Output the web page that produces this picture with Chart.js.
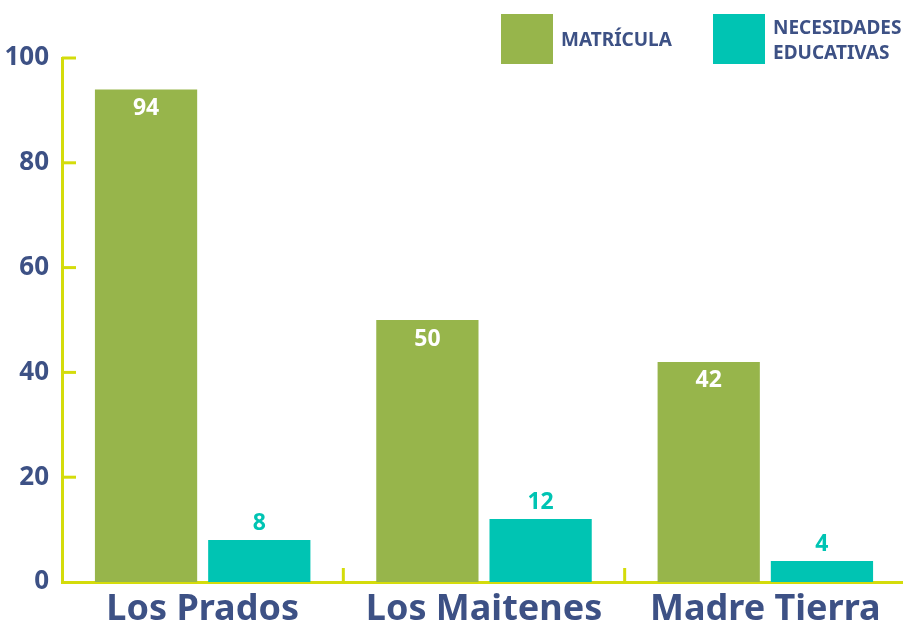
<!DOCTYPE html>
<html>
<head>
<meta charset="utf-8">
<script src="https://cdn.jsdelivr.net/npm/chart.js@4"></script>
<style>
  html, body { margin: 0; padding: 0; background: #fff; overflow: hidden; }
  #wrap { width: 906px; height: 621px; position: relative; }
</style>
</head>
<body>
<div id="wrap"><canvas id="chart"></canvas></div>
<script>
// Datos
const categorias = ['Los Prados', 'Los Maitenes', 'Madre Tierra'];
const matricula = [94, 50, 42];
const necesidades = [8, 12, 4];
const etiquetasSeries = [['MATRÍCULA'], ['NECESIDADES', 'EDUCATIVAS']];
const ticksY = [0, 20, 40, 60, 80, 100];

const VERDE = '#97b54b';
const TURQUESA = '#00c4b3';
const AZUL = '#3d5185';
const EJE = '#d4dc0b';
const FUENTE = '"Noto Sans", "Open Sans", sans-serif';

// Marcas del eje y divisiones entre categorías
const ejesPlugin = {
    id: 'ejes',
    afterDraw(chart) {
        const ctx = chart.ctx;
        const y = chart.scales.y;
        const x = chart.scales.x;
        ctx.save();
        ctx.strokeStyle = EJE;
        ctx.lineWidth = 3;
        ticksY.forEach(v => {
            if (v === 0) return;
            const py = y.getPixelForValue(v);
            ctx.beginPath();
            ctx.moveTo(y.right, py);
            ctx.lineTo(y.right + 14, py);
            ctx.stroke();
        });
        for (let i = 0; i < categorias.length - 1; i++) {
            const px = (x.getPixelForValue(i) + x.getPixelForValue(i + 1)) / 2;
            ctx.beginPath();
            ctx.moveTo(px, x.top);
            ctx.lineTo(px, x.top - 14);
            ctx.stroke();
        }
        ctx.restore();
    }
};

// Valores sobre las barras
const valoresPlugin = {
    id: 'valores',
    afterDatasetsDraw(chart) {
        const ctx = chart.ctx;
        ctx.save();
        ctx.font = 'bold 23px ' + FUENTE;
        ctx.textAlign = 'center';
        ctx.textBaseline = 'middle';
        chart.data.datasets.forEach((ds, di) => {
            chart.getDatasetMeta(di).data.forEach((bar, i) => {
                if (di === 0) {
                    ctx.fillStyle = '#fff';
                    ctx.fillText(ds.data[i], bar.x, bar.y + 19);
                } else {
                    ctx.fillStyle = TURQUESA;
                    ctx.fillText(ds.data[i], bar.x, bar.y - 17);
                }
            });
        });
        ctx.restore();
    }
};

// Leyenda superior
const leyendaPlugin = {
    id: 'leyenda',
    afterDraw(chart) {
        const ctx = chart.ctx;
        const cajas = [501, 713];
        ctx.save();
        ctx.font = 'bold 19px ' + FUENTE;
        ctx.textBaseline = 'middle';
        chart.data.datasets.forEach((ds, di) => {
            const x0 = cajas[di];
            ctx.fillStyle = ds.backgroundColor;
            ctx.fillRect(x0, 14, 52, 50);
            ctx.fillStyle = AZUL;
            const lineas = etiquetasSeries[di];
            const alto = 25;
            const inicio = 41 - (lineas.length - 1) * alto / 2;
            lineas.forEach((t, k) => ctx.fillText(t, x0 + 60, inicio + k * alto));
        });
        ctx.restore();
    }
};

new Chart(document.getElementById('chart'), {
    type: 'bar',
    data: {
        labels: categorias,
        datasets: [
            { label: 'MATRÍCULA', data: matricula, backgroundColor: VERDE },
            { label: 'NECESIDADES EDUCATIVAS', data: necesidades, backgroundColor: TURQUESA }
        ]
    },
    options: {
        responsive: true,
        maintainAspectRatio: false,
        animation: false,
        layout: { padding: { top: 58, right: 0, left: 1, bottom: 0 } },
        plugins: {
            legend: { display: false },
            tooltip: { enabled: false }
        },
        datasets: {
            bar: { categoryPercentage: 0.805, barPercentage: 0.903 }
        },
        scales: {
            x: {
                grid: { display: false },
                border: { display: true, color: EJE, width: 3 },
                ticks: {
                    color: AZUL,
                    font: { family: FUENTE, size: 36, weight: 'bold' },
                    padding: -2
                },
                afterFit(scale) { scale.height = 39; }
            },
            y: {
                min: 0,
                max: 100,
                grid: { display: false },
                border: { display: true, color: EJE, width: 3 },
                afterBuildTicks(scale) { scale.ticks = ticksY.map(v => ({ value: v })); },
                ticks: {
                    color: AZUL,
                    font: { family: FUENTE, size: 26, weight: 'bold' },
                    padding: 5
                },
                afterFit(scale) { scale.width = 61; }
            }
        }
    },
    plugins: [ejesPlugin, valoresPlugin, leyendaPlugin]
});
</script>
</body>
</html>
